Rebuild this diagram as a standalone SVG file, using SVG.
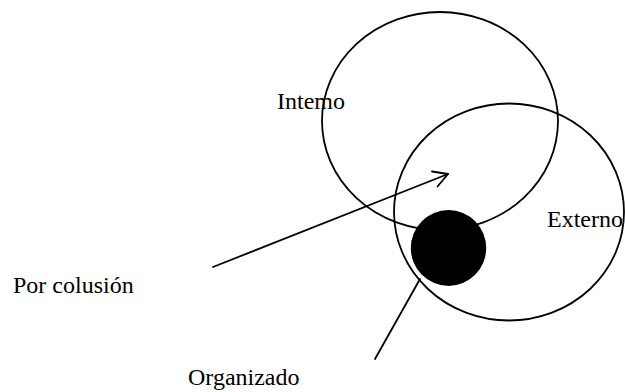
<svg xmlns="http://www.w3.org/2000/svg" width="625" height="392" viewBox="0 0 625 392">
<style>
.ring{fill:none;stroke:#000;stroke-width:1.8}
.lbl{font-family:"Liberation Serif","Times New Roman",serif;font-size:24px;fill:#000}
.conn{fill:none;stroke:#000;stroke-width:1.8;stroke-linecap:round;stroke-linejoin:round}
</style>
<rect width="625" height="392" fill="#fff"/>
<g id="interno">
<ellipse class="ring" cx="440" cy="121" rx="118" ry="109"/>
<text class="lbl" x="277" y="109">Intemo</text>
</g>
<g id="externo">
<ellipse class="ring" cx="509" cy="212" rx="115" ry="108.5"/>
<text class="lbl" x="547" y="227">Externo</text>
</g>
<g id="organizado-nucleo">
<ellipse cx="448.5" cy="248" rx="37.7" ry="38" fill="#000"/>
</g>
<g id="por-colusion">
<text class="lbl" x="13" y="293">Por colusión</text>
</g>
<g id="organizado">
<text class="lbl" x="188" y="385">Organizado</text>
</g>
<g id="connectors">
<line class="conn" x1="213" y1="267" x2="448" y2="174"/>
<polyline class="conn" points="432,171.5 448,174 437.5,186.5"/>
<line class="conn" x1="420" y1="279" x2="375" y2="359"/>
</g>
</svg>
